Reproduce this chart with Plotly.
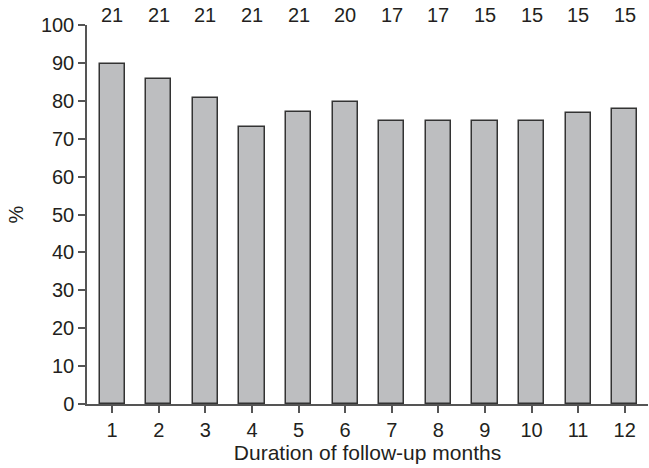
import plotly.graph_objects as go

months = [1, 2, 3, 4, 5, 6, 7, 8, 9, 10, 11, 12]
percent = [89.6, 85.8, 80.7, 73.2, 77.1, 79.6, 74.8, 74.8, 74.8, 74.8, 76.8, 77.8]
n_patients = [21, 21, 21, 21, 21, 20, 17, 17, 15, 15, 15, 15]
y_ticks = [0, 10, 20, 30, 40, 50, 60, 70, 80, 90, 100]

font_family = "Liberation Sans, Arial, sans-serif"
text_color = "#231f20"

fig = go.Figure()
fig.add_trace(go.Bar(
    x=months, y=percent, width=0.54,
    marker=dict(color="#bdbec0", line=dict(color="#333333", width=1.5)),
    showlegend=False, hoverinfo="skip",
))

for m, n in zip(months, n_patients):
    fig.add_annotation(x=m, y=1, xref="x", yref="paper", yanchor="middle",
                       text=str(n), showarrow=False, yshift=10,
                       font=dict(size=20, color=text_color, family=font_family))

fig.update_layout(
    width=649, height=468,
    margin=dict(l=87, r=1, t=25, b=64),
    paper_bgcolor="white", plot_bgcolor="white",
    font=dict(family=font_family, size=20, color=text_color),
    bargap=0,
    xaxis=dict(range=[0.46, 12.5], tickvals=months, ticktext=[str(m) for m in months],
               automargin=False,
               showline=True, linecolor="#555555", linewidth=1.5,
               ticks="outside", ticklen=7, tickwidth=1.5, tickcolor="#555555",
               showgrid=False, zeroline=False,
               title=dict(text="Duration of follow-up months", standoff=6,
                          font=dict(size=21, color=text_color))),
    yaxis=dict(range=[0, 100], tickvals=y_ticks,
               automargin=False,
               showline=True, linecolor="#555555", linewidth=1.5,
               ticks="outside", ticklen=7, tickwidth=1.5, tickcolor="#555555",
               showgrid=False, zeroline=False,
               title=dict(text="%", standoff=12, font=dict(size=20, color=text_color))),
)

fig.write_html("out.html", config={"displayModeBar": False},
               post_script="document.body.style.margin='0';")
